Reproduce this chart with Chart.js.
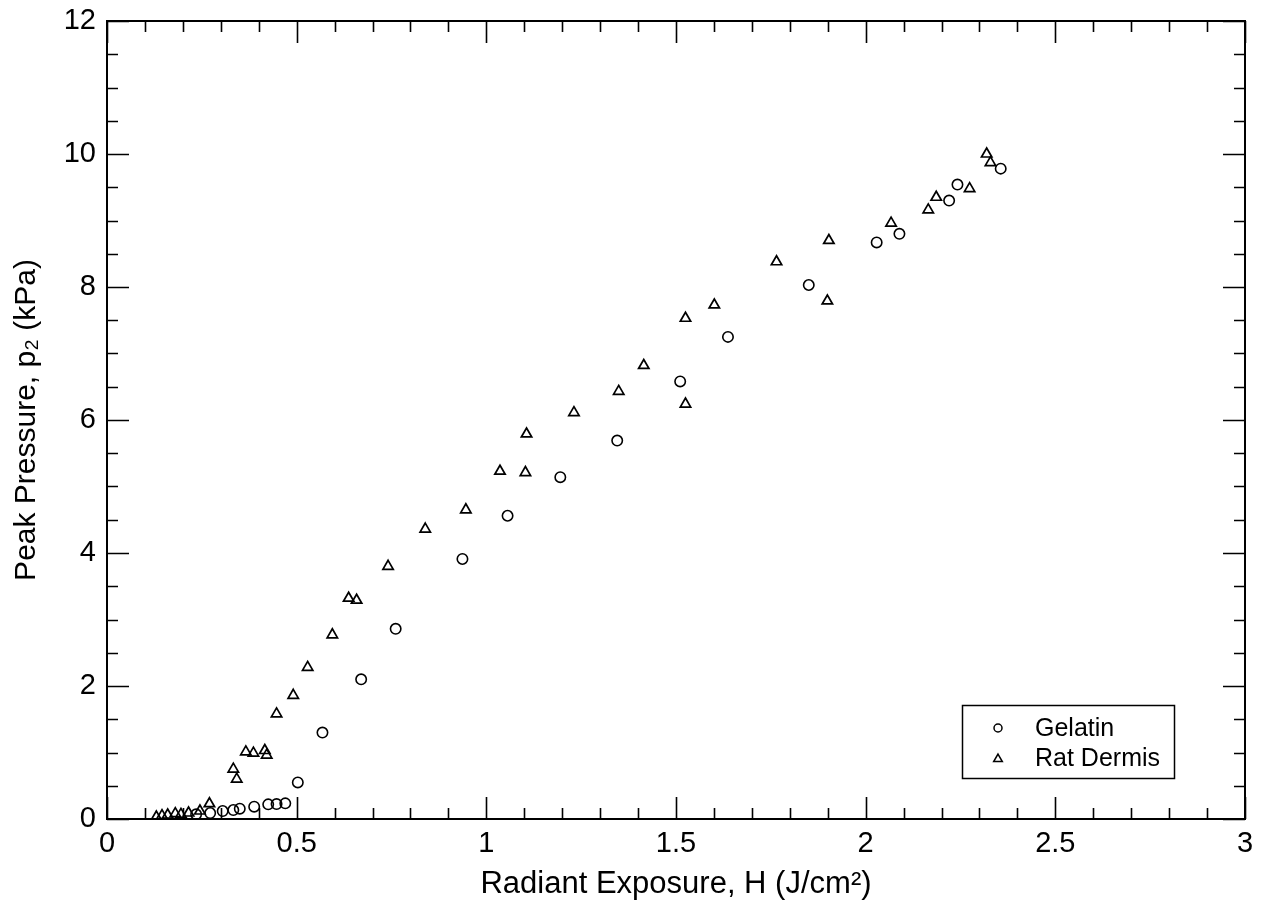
<!DOCTYPE html>
<html>
<head>
<meta charset="utf-8">
<script src="https://cdn.jsdelivr.net/npm/chart.js@4.4.1/dist/chart.umd.min.js"></script>
<style>
  html, body { margin: 0; padding: 0; background: #fff; }
  #wrap { width: 1270px; height: 914px; }
</style>
</head>
<body>
<div id="wrap"><canvas id="c" width="1270" height="914"></canvas></div>
<script>
// ---- Data ----
const gelatinX = [0.235, 0.272, 0.305, 0.333, 0.350, 0.388, 0.425, 0.447, 0.470, 0.503, 0.568, 0.670, 0.761, 0.937, 1.056, 1.195, 1.345, 1.511, 1.637, 1.850, 2.029, 2.089, 2.220, 2.242, 2.356];
const gelatinY = [0.07, 0.09, 0.12, 0.135, 0.155, 0.185, 0.22, 0.225, 0.235, 0.55, 1.30, 2.10, 2.86, 3.91, 4.56, 5.14, 5.69, 6.58, 7.25, 8.03, 8.67, 8.80, 9.30, 9.54, 9.78];

const dermisX = [0.130, 0.145, 0.160, 0.180, 0.195, 0.215, 0.245, 0.270, 0.333, 0.342, 0.366, 0.386, 0.416, 0.421, 0.447, 0.491, 0.529, 0.594, 0.637, 0.658, 0.741, 0.839, 0.946, 1.036, 1.103, 1.106, 1.231, 1.349, 1.415, 1.525, 1.525, 1.601, 1.765, 1.899, 1.903, 2.067, 2.165, 2.186, 2.274, 2.319, 2.329];
const dermisY = [0.03, 0.05, 0.06, 0.08, 0.07, 0.09, 0.12, 0.23, 0.75, 0.60, 1.01, 0.99, 1.03, 0.96, 1.58, 1.86, 2.28, 2.77, 3.32, 3.29, 3.80, 4.36, 4.65, 5.23, 5.21, 5.79, 6.11, 6.43, 6.82, 7.53, 6.24, 7.73, 8.38, 7.79, 8.70, 8.96, 9.16, 9.35, 9.48, 10.0, 9.87];

const seriesLabels = ['Gelatin', 'Rat Dermis'];
const xTitle = 'Radiant Exposure, H (J/cm\u00B2)';
const yTitle = 'Peak Pressure, p\u2082 (kPa)';
const xRange = [0, 3];
const yRange = [0, 12];
const xMajorStep = 0.5, xMinorStep = 0.1;
const yMajorStep = 2, yMinorStep = 0.5;

const FONT = "'Liberation Sans', Arial, sans-serif";

function pts(xs, ys) { return xs.map((x, i) => ({ x: x, y: ys[i] })); }
function fmt(v) { return String(+Number(v).toFixed(3)); }

const frameTicks = {
  id: 'frameTicks',
  afterDraw(chart) {
    const { ctx, chartArea: a, scales: { x, y } } = chart;
    ctx.save();
    ctx.strokeStyle = '#000';
    ctx.lineWidth = 1.6;
    ctx.beginPath();
    const nx = Math.round((xRange[1] - xRange[0]) / xMinorStep);
    const perX = Math.round(xMajorStep / xMinorStep);
    for (let i = 0; i <= nx; i++) {
      const px = Math.round(x.getPixelForValue(xRange[0] + i * xMinorStep)) + 0.5;
      const L = (i % perX === 0) ? 22 : 11;
      ctx.moveTo(px, a.bottom); ctx.lineTo(px, a.bottom - L);
      ctx.moveTo(px, a.top); ctx.lineTo(px, a.top + L);
    }
    const ny = Math.round((yRange[1] - yRange[0]) / yMinorStep);
    const perY = Math.round(yMajorStep / yMinorStep);
    for (let i = 0; i <= ny; i++) {
      const py = Math.round(y.getPixelForValue(yRange[0] + i * yMinorStep)) + 0.5;
      const L = (i % perY === 0) ? 22 : 11;
      ctx.moveTo(a.left, py); ctx.lineTo(a.left + L, py);
      ctx.moveTo(a.right, py); ctx.lineTo(a.right - L, py);
    }
    ctx.stroke();
    ctx.lineWidth = 2;
    ctx.strokeRect(a.left, a.top, a.right - a.left, a.bottom - a.top);

    // legend box
    const bx = a.right - 283, by = a.bottom - 114, bw = 212, bh = 73;
    ctx.lineWidth = 1.5;
    ctx.strokeRect(bx + 0.5, by + 0.5, bw, bh);
    ctx.textBaseline = 'middle';
    chart.data.datasets.forEach((ds, i) => {
      const cy = by + 23 + i * 30;
      ctx.fillStyle = 'rgba(0,0,0,0)';
      ctx.strokeStyle = '#000';
      ctx.lineWidth = 1.5;
      Chart.helpers.drawPoint(ctx, {
        pointStyle: ds.pointStyle, radius: ds.pointStyle === 'circle' ? 4 : 5,
        borderWidth: 1.5
      }, bx + 36, cy + (ds.pointStyle === 'triangle' ? 1 : 0));
      ctx.fillStyle = '#000';
      ctx.font = '25px ' + FONT;
      ctx.fillText(ds.label, bx + 73, cy + 1);
    });
    ctx.restore();
  }
};

new Chart(document.getElementById('c'), {
  type: 'scatter',
  data: {
    datasets: [
      { label: seriesLabels[0], data: pts(gelatinX, gelatinY), pointStyle: 'circle', pointRadius: 5.2,
        borderColor: '#000', backgroundColor: 'rgba(0,0,0,0)', borderWidth: 1.6, pointHoverRadius: 5.2 },
      { label: seriesLabels[1], data: pts(dermisX, dermisY), pointStyle: 'triangle', pointRadius: 6,
        borderColor: '#000', backgroundColor: 'rgba(0,0,0,0)', borderWidth: 1.7, pointHoverRadius: 6 }
    ]
  },
  options: {
    responsive: false,
    animation: false,
    events: [],
    layout: { padding: { left: 0, top: 21, right: 25, bottom: 0 } },
    plugins: { legend: { display: false }, tooltip: { enabled: false } },
    scales: {
      x: {
        type: 'linear', min: xRange[0], max: xRange[1],
        grid: { display: false, drawTicks: false, tickLength: 0 }, border: { display: false },
        ticks: { stepSize: xMajorStep, color: '#000', font: { family: FONT, size: 29, lineHeight: 1 }, padding: 10, maxRotation: 0, callback: fmt },
        title: { display: true, text: xTitle, color: '#000', font: { family: FONT, size: 31 }, padding: { top: 0, bottom: 11 } },
        afterFit(s) { s.height = 95; s.paddingLeft = 0; s.paddingRight = 0; }
      },
      y: {
        type: 'linear', min: yRange[0], max: yRange[1],
        grid: { display: false, drawTicks: false, tickLength: 0 }, border: { display: false },
        ticks: { stepSize: yMajorStep, color: '#000', font: { family: FONT, size: 29 }, padding: 11, callback: fmt },
        title: { display: true, text: yTitle, color: '#000', font: { family: FONT, size: 30 }, padding: { top: 9, bottom: 0 } },
        afterFit(s) { s.width = 107; s.paddingTop = 0; s.paddingBottom = 0; }
      }
    }
  },
  plugins: [frameTicks]
});
</script>
</body>
</html>
